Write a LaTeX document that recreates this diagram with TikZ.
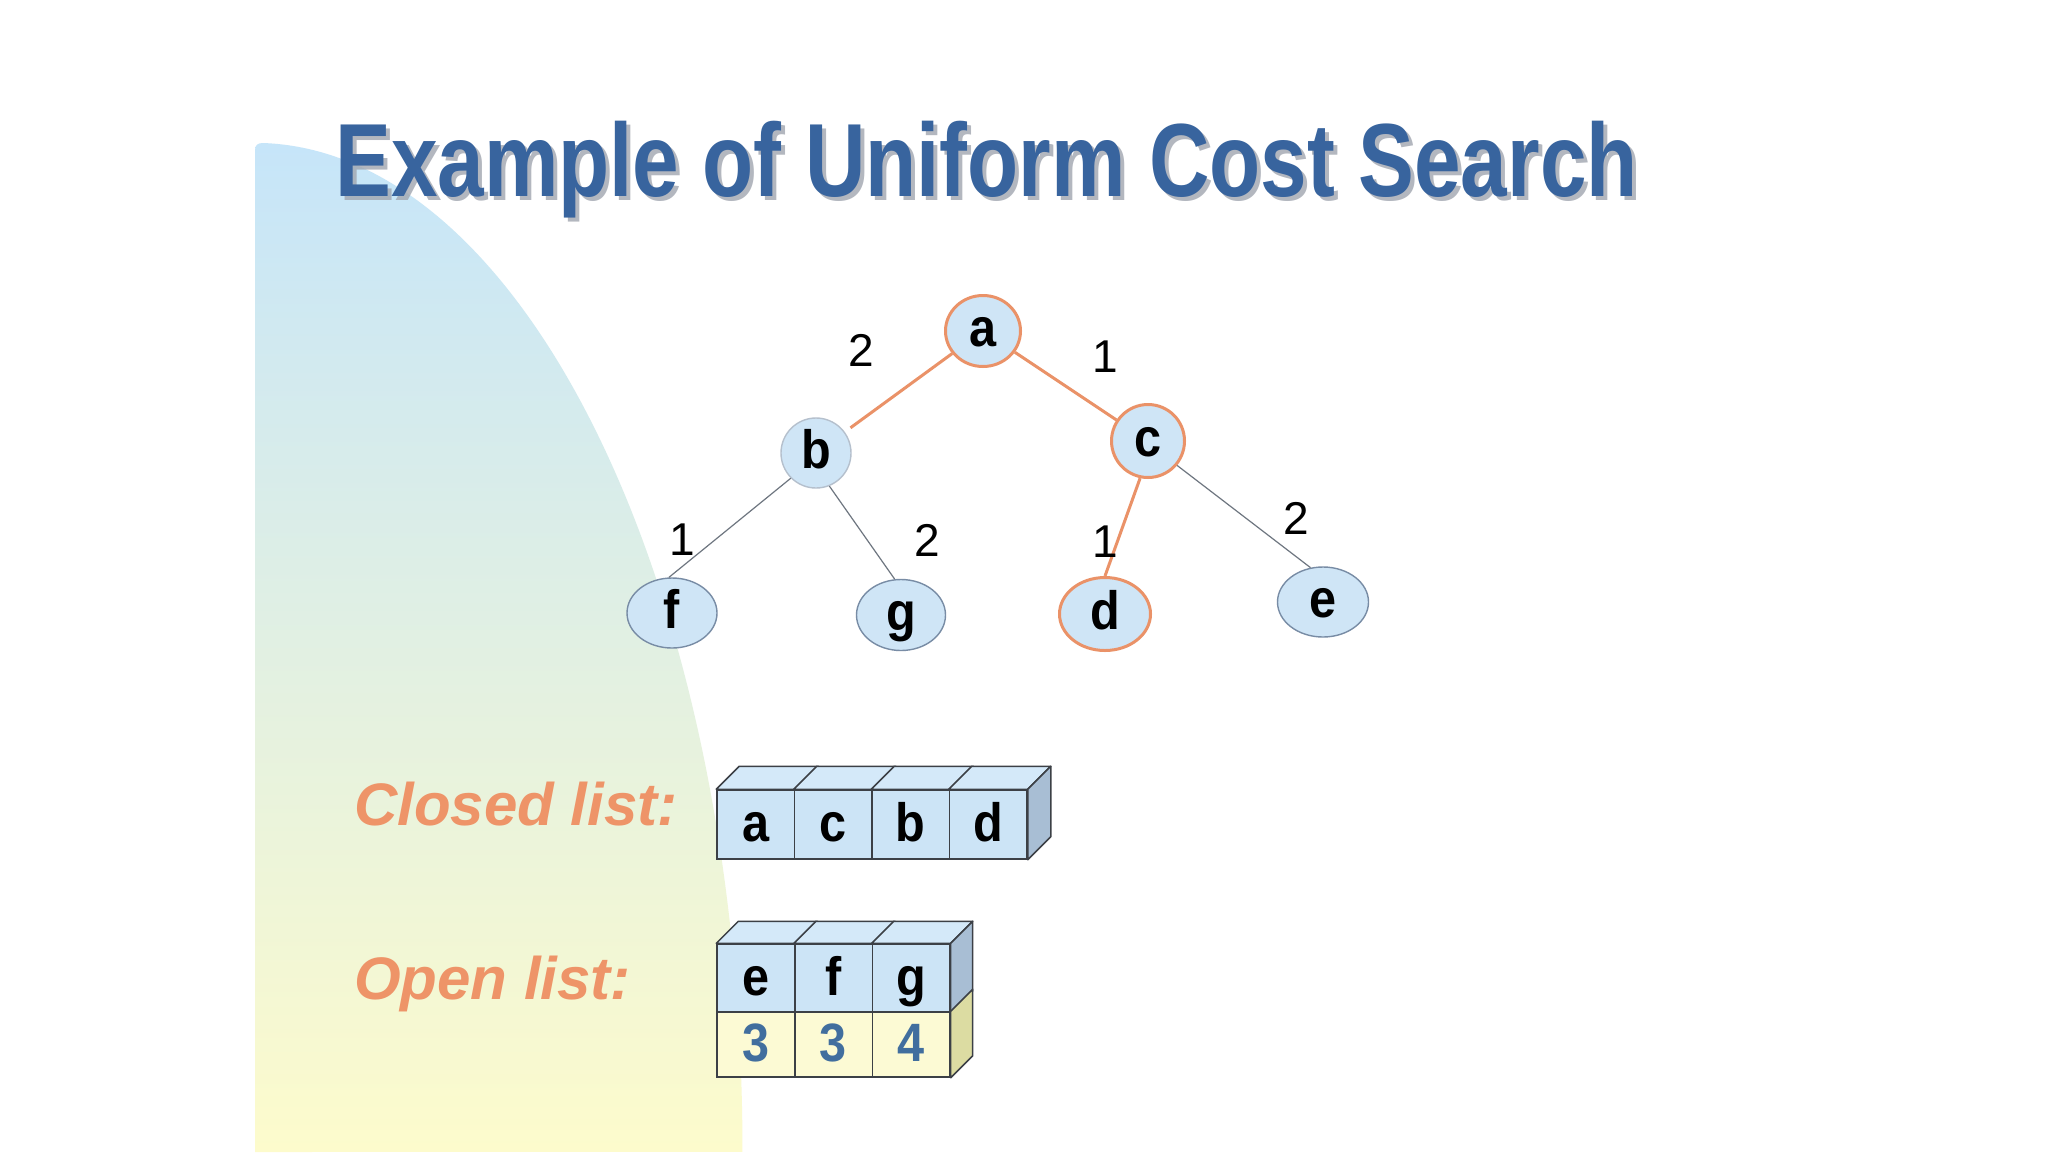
\documentclass[tikz,border=0pt]{standalone}
\usepackage{fontspec}
\setmainfont{Liberation Sans}
\usepackage{graphicx}
\usetikzlibrary{shapes.geometric,calc}
\definecolor{titleblue}{RGB}{56,100,158}
\definecolor{shadowgray}{RGB}{160,165,175}
\definecolor{bgblue}{RGB}{198,229,249}
\definecolor{bgmid}{RGB}{224,240,234}
\definecolor{bgyellow}{RGB}{253,251,204}
\definecolor{nodefill}{RGB}{207,229,246}
\definecolor{nodegray}{RGB}{120,140,165}
\definecolor{orng}{RGB}{234,146,104}
\definecolor{labelorange}{RGB}{238,148,104}
\definecolor{cellblue}{RGB}{204,228,246}
\definecolor{celltop}{RGB}{212,233,249}
\definecolor{cellside}{RGB}{168,190,212}
\definecolor{cellyellow}{RGB}{252,250,212}
\definecolor{cellyside}{RGB}{220,220,162}
\definecolor{cellborder}{RGB}{60,64,70}
\definecolor{numblue}{RGB}{65,110,158}
\definecolor{edgegray}{RGB}{110,118,128}
\newcommand{\cond}[1]{\scalebox{0.9}[1]{#1}}
\newcommand{\condt}[1]{\scalebox{0.805}[1]{#1}}
\tikzset{
  tnode/.style={ellipse, draw=nodegray, line width=1.4pt, fill=nodefill, inner sep=0pt,
    text height=32pt, text depth=2pt,
    font=\fontsize{54}{60}\selectfont\bfseries},
  visited/.style={draw=orng, line width=3pt},
  elabel/.style={inner sep=0pt, font=\fontsize{46}{50}\selectfont},
  tedge/.style={draw=edgegray, line width=1.2pt},
  oedge/.style={draw=orng, line width=3pt},
  cellbox/.style={draw=cellborder, line width=1.5pt, fill=cellblue, inner sep=0pt,
    minimum width=77.5pt, text height=42pt, text depth=8pt,
    font=\fontsize{54}{60}\selectfont\bfseries},
  numbox/.style={cellbox, fill=cellyellow, text=numblue},
  face/.style={draw=cellborder, line width=1.5pt, line join=round},
  listlabel/.style={anchor=base west, inner sep=0pt, text=labelorange,
    font=\fontsize{60}{70}\selectfont\bfseries\itshape}
}
\begin{document}
\begin{tikzpicture}[x=1pt,y=-1pt]
\useasboundingbox (0,0) rectangle (2048,1152);
\fill[white] (0,0) rectangle (2048,1152);
% background shape: quarter ellipse
\shade[top color=bgblue, middle color=bgmid, bottom color=bgyellow]
  (255,1152) -- (255,150) .. controls (255,145) and (258,143) .. (263,143)
  -- (263,143) arc[start angle=-89, end angle=0, x radius=488, y radius=1009]
  -- cycle;
% title
\node[anchor=base west, inner sep=0pt, text=shadowgray, opacity=0.8] (titleshadow) at (339,200)
  {\fontsize{104}{110}\selectfont\bfseries\condt{Example of Uniform Cost Search}};
\node[anchor=base west, inner sep=0pt, text=titleblue] (title) at (335,196)
  {\fontsize{104}{110}\selectfont\bfseries\condt{Example of Uniform Cost Search}};
% tree nodes
\node[tnode, visited, minimum width=75pt, minimum height=71pt] (a) at (983,331) {\cond{a}};
\node[tnode, draw=nodegray!55, minimum width=70pt, minimum height=70pt] (b) at (816,453) {\cond{b}};
\node[tnode, visited, minimum width=73pt, minimum height=73pt] (c) at (1148,441) {\cond{c}};
\node[tnode, minimum width=90pt, minimum height=70pt] (f) at (672,613) {\cond{f}};
\node[tnode, minimum width=89pt, minimum height=71pt] (g) at (901,615) {\cond{g}};
\node[tnode, visited, minimum width=91pt, minimum height=73pt] (d) at (1105,614) {\cond{d}};
\node[tnode, minimum width=91pt, minimum height=70pt] (e) at (1323,602) {\cond{e}};
% edges
\draw[oedge, shorten >=7pt] (a) -- (b);
\draw[oedge] (a) -- (c);
\draw[oedge] (c.-102) -- (d.north);
\draw[tedge] (b.225) -- (f.95);
\draw[tedge] (b.-68) -- (g.100);
\draw[tedge] (c.-40) -- (e.110);
% edge labels
\node[elabel] (lab) at (861,350) {2};
\node[elabel] (lac) at (1105,357) {1};
\node[elabel] (lbf) at (682,540) {1};
\node[elabel] (lbg) at (927,540) {2};
\node[elabel] (lcd) at (1105,542) {1};
\node[elabel] (lce) at (1296,518) {2};
% list labels
\node[listlabel] (closedlab) at (354,825) {Closed list:};
\node[listlabel] (openlab) at (354,999) {Open list:};
% closed list
\node[cellbox, minimum height=69pt] (k1) at (755.75,824.5) {\cond{a}};
\node[cellbox, minimum height=69pt] (k2) at (833.25,824.5) {\cond{c}};
\node[cellbox, minimum height=69pt] (k3) at (910.75,824.5) {\cond{b}};
\node[cellbox, minimum height=69pt] (k4) at (988.25,824.5) {\cond{d}};
\foreach \n in {k1,k2,k3,k4}{
  \filldraw[face, fill=celltop] (\n.north west) -- ++(23,-23) -- ($(\n.north east)+(23,-23)$) -- (\n.north east) -- cycle;
}
\filldraw[face, fill=cellside] (k4.north east) -- ++(23,-23) -- ($(k4.south east)+(23,-23)$) -- (k4.south east) -- cycle;
% open list
\node[cellbox, minimum height=68pt] (o1) at (755.8,978) {\cond{e}};
\node[cellbox, minimum height=68pt] (o2) at (833.5,978) {\cond{f}};
\node[cellbox, minimum height=68pt] (o3) at (911.2,978) {\cond{g}};
\node[numbox, minimum height=65pt] (n1) at (755.8,1044.5) {\cond{3}};
\node[numbox, minimum height=65pt] (n2) at (833.5,1044.5) {\cond{3}};
\node[numbox, minimum height=65pt] (n3) at (911.2,1044.5) {\cond{4}};
\foreach \n in {o1,o2,o3}{
  \filldraw[face, fill=celltop] (\n.north west) -- ++(22,-22) -- ($(\n.north east)+(22,-22)$) -- (\n.north east) -- cycle;
}
\filldraw[face, fill=cellside] (o3.north east) -- ++(22,-22) -- ($(o3.south east)+(22,-22)$) -- (o3.south east) -- cycle;
\filldraw[face, fill=cellyside] (n3.north east) -- ++(22,-22) -- ($(n3.south east)+(22,-22)$) -- (n3.south east) -- cycle;
\end{tikzpicture}
\end{document}
